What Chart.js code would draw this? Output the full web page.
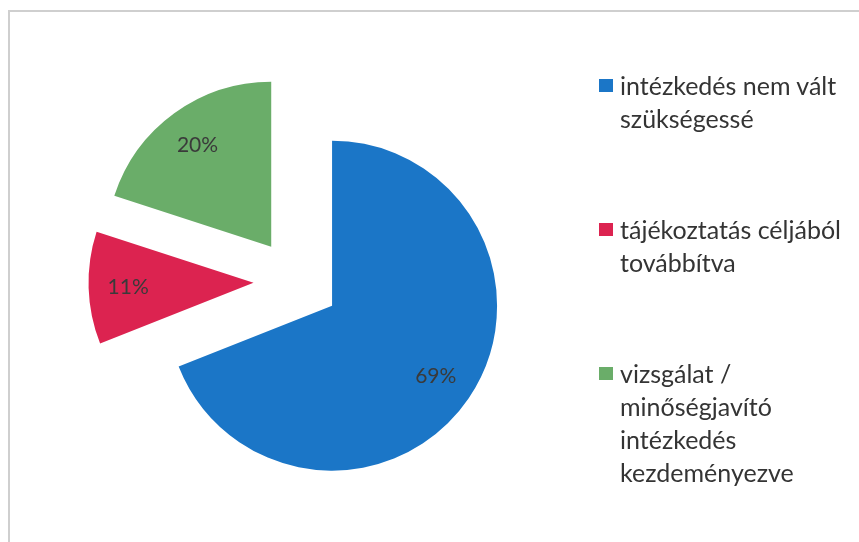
<!DOCTYPE html>
<html>
<head>
<meta charset="utf-8">
<script src="https://cdn.jsdelivr.net/npm/chart.js@4/dist/chart.umd.min.js"></script>
<style>
  body { margin: 0; background: #fff; }
  #wrap { position: relative; width: 859px; height: 542px; overflow: hidden; }
  #frame { position: absolute; left: 8px; top: 10px; width: 860px; height: 540px;
           border-top: 2px solid #cfcfcf; border-left: 2px solid #cfcfcf; }
  canvas { position: absolute; left: 0; top: 0; }
  .leg { position: absolute; left: 599px; font-family: Lato, "Open Sans", sans-serif;
         font-size: 25px; line-height: 33px; color: #343434; }
  .leg .sq { position: absolute; left: 0; top: 10px; width: 14px; height: 13px; }
  .leg .txt { margin-left: 21px; }
</style>
</head>
<body>
<div id="wrap">
  <div id="frame"></div>
  <canvas id="pie" width="859" height="542"></canvas>
  <div id="legend"></div>
</div>
<script>
document.addEventListener('DOMContentLoaded', () => {
  // Data
  const categories = [
    ['intézkedés nem vált', 'szükségessé'],
    ['tájékoztatás céljából', 'továbbítva'],
    ['vizsgálat /', 'minőségjavító', 'intézkedés', 'kezdeményezve']
  ];
  const values = [69, 11, 20];
  const colors = ['#1b76c7', '#dc2350', '#6aad69'];

  const legendTops = [69, 213, 357];
  const shift = 43; // how far each slice is pulled out
  const total = values.reduce((s, v) => s + v, 0);

  // Draw every slice pulled out by the same distance along its mid angle
  const explode = {
    id: 'explode',
    beforeDatasetDraw(chart, args) {
      const ctx = chart.ctx;
      const meta = chart.getDatasetMeta(args.index);
      meta.data.forEach(arc => {
        const p = arc.getProps(['startAngle', 'endAngle'], true);
        const mid = (p.startAngle + p.endAngle) / 2;
        ctx.save();
        ctx.translate(Math.cos(mid) * shift, Math.sin(mid) * shift);
        arc.draw(ctx);
        ctx.restore();
      });
      return false;
    }
  };

  // Percent labels inside the slices
  const sliceLabels = {
    id: 'sliceLabels',
    afterDatasetsDraw(chart) {
      const ctx = chart.ctx;
      const meta = chart.getDatasetMeta(0);
      ctx.save();
      ctx.font = '21px Lato, "Open Sans", sans-serif';
      ctx.fillStyle = '#3a3a3a';
      ctx.textAlign = 'center';
      ctx.textBaseline = 'middle';
      meta.data.forEach((arc, i) => {
        const p = arc.getProps(['x', 'y', 'startAngle', 'endAngle', 'outerRadius'], true);
        const mid = (p.startAngle + p.endAngle) / 2;
        const d = shift + p.outerRadius * 0.76;
        const pct = Math.round(values[i] / total * 100) + '%';
        ctx.fillText(pct, p.x + Math.cos(mid) * d, p.y + Math.sin(mid) * d);
      });
      ctx.restore();
    }
  };

  new Chart(document.getElementById('pie'), {
    type: 'pie',
    data: {
      labels: categories.map(c => c.join(' ')),
      datasets: [{
        data: values,
        backgroundColor: colors,
        borderWidth: 0
      }]
    },
    options: {
      responsive: false,
      animation: false,
      radius: 165,
      layout: { padding: { left: 0, right: 266, top: 21, bottom: 0 } },
      plugins: {
        legend: { display: false },
        tooltip: { enabled: false }
      }
    },
    plugins: [explode, sliceLabels]
  });

  // Legend
  const legend = document.getElementById('legend');
  categories.forEach((lines, i) => {
    const item = document.createElement('div');
    item.className = 'leg';
    item.style.top = legendTops[i] + 'px';
    item.innerHTML = `
      <span class="sq" style="background:${colors[i]}"></span>
      <div class="txt">${lines.join('<br>')}</div>
    `;
    legend.appendChild(item);
  });
});
</script>
</body>
</html>
